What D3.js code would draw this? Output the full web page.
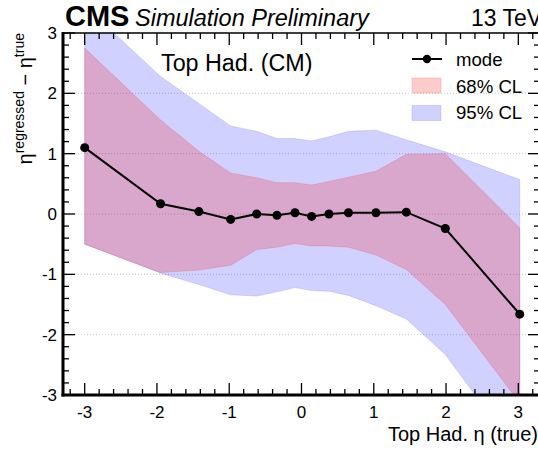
<!DOCTYPE html>
<html><head><meta charset="utf-8">
<script src="https://cdn.jsdelivr.net/npm/d3@7"></script>
<style>body{margin:0;background:#fff}svg{display:block}text{font-family:"Liberation Sans",Arial,sans-serif}</style>
</head><body><svg id="c" width="538" height="449"></svg>
<script>
const etaTrue = [-3.0, -1.95, -1.42, -0.98, -0.62, -0.34, -0.09, 0.14, 0.38, 0.65, 1.03, 1.45, 1.99, 3.02];
const modeVals = [1.10, 0.17, 0.04, -0.09, 0.0, -0.02, 0.02, -0.04, 0.0, 0.02, 0.02, 0.03, -0.24, -1.66];
const lo68 = [-0.50, -0.97, -0.93, -0.85, -0.59, -0.55, -0.49, -0.53, -0.53, -0.55, -0.68, -0.92, -1.50, -3.13];
const hi68 = [2.75, 1.56, 1.04, 0.68, 0.60, 0.52, 0.52, 0.48, 0.54, 0.61, 0.71, 0.99, 1.00, -0.23];
const lo95 = [-0.50, -0.98, -1.17, -1.34, -1.36, -1.29, -1.22, -1.27, -1.28, -1.35, -1.52, -1.74, -2.33, -4.0];
const hi95 = [3.45, 2.28, 1.83, 1.46, 1.37, 1.25, 1.25, 1.21, 1.28, 1.37, 1.39, 1.23, 1.03, 0.57];
const xTicks = [-3, -2, -1, 0, 1, 2, 3];
const yTicks = [-3, -2, -1, 0, 1, 2, 3];
const legendLabels = ["mode", "68% CL", "95% CL"];

const svg = d3.select("#c");
const L = 63, R = 540, T = 33, B = 395;
const x = d3.scaleLinear().domain([-3.3, 3.3]).range([L, R]);
const y = d3.scaleLinear().domain([-3, 3]).range([B, T]);
const blue = "rgba(0,0,255,0.18)", pink = "rgba(255,0,0,0.2)";

svg.append("clipPath").attr("id","clip").append("rect").attr("x",L).attr("y",T).attr("width",R-L).attr("height",B-T);

// grid
svg.append("g").selectAll("line").data([-2,-1,0,1,2]).join("line")
  .attr("x1",L).attr("x2",R).attr("y1",d=>y(d)).attr("y2",d=>y(d))
  .attr("stroke","#c8c8c8").attr("stroke-width",1).attr("stroke-dasharray","1,2");

const idx = d3.range(etaTrue.length);
const g = svg.append("g").attr("clip-path","url(#clip)");
const area = (lo,hi)=>d3.area().x(i=>x(etaTrue[i])).y0(i=>y(lo[i])).y1(i=>y(hi[i]))(idx);
g.append("path").attr("d",area(lo95,hi95)).attr("fill",blue).attr("stroke","rgba(0,0,255,0.12)");
g.append("path").attr("d",area(lo68,hi68)).attr("fill",pink).attr("stroke","rgba(255,0,0,0.15)");
g.append("path").attr("d",d3.line().x(i=>x(etaTrue[i])).y(i=>y(modeVals[i]))(idx))
  .attr("fill","none").attr("stroke","#000").attr("stroke-width",2);
g.selectAll("circle").data(idx).join("circle").attr("cx",i=>x(etaTrue[i])).attr("cy",i=>y(modeVals[i]))
  .attr("r",4.5).attr("fill","#000");

// axes ticks
const minorX = d3.range(-32,33,2).map(v=>v/10);
const minorY = d3.range(-30,31,2).map(v=>v/10);
const tk = svg.append("g").attr("stroke","#000").attr("stroke-width",1.3);
minorX.forEach(v=>{
  const major = Math.abs(v-Math.round(v))<1e-6;
  const len = major?12:6;
  tk.append("line").attr("x1",x(v)).attr("x2",x(v)).attr("y1",B).attr("y2",B-len);
  tk.append("line").attr("x1",x(v)).attr("x2",x(v)).attr("y1",T).attr("y2",T+len);
});
minorY.forEach(v=>{
  const major = Math.abs(v-Math.round(v))<1e-6;
  const len = major?12:6;
  tk.append("line").attr("y1",y(v)).attr("y2",y(v)).attr("x1",L).attr("x2",L+len);
  tk.append("line").attr("y1",y(v)).attr("y2",y(v)).attr("x1",R).attr("x2",R-len);
});
// frame
svg.append("rect").attr("x",L).attr("y",T).attr("width",R-L).attr("height",B-T).attr("fill","none").attr("stroke","#000").attr("stroke-width",1.5);
svg.append("line").attr("x1",L).attr("x2",L).attr("y1",T-1).attr("y2",B+1.5).attr("stroke","#000").attr("stroke-width",3);
svg.append("line").attr("x1",L-1.5).attr("x2",R).attr("y1",B).attr("y2",B).attr("stroke","#000").attr("stroke-width",3);

// tick labels
svg.append("g").selectAll("text").data(xTicks).join("text")
  .attr("x",d=>x(d)).attr("y",418).attr("text-anchor","middle").attr("font-size",17).text(d=>d);
svg.append("g").selectAll("text").data(yTicks).join("text")
  .attr("x",57).attr("y",d=>y(d)+6).attr("text-anchor","end").attr("font-size",17).text(d=>d);

// axis titles
svg.append("text").attr("x",538).attr("y",441).attr("text-anchor","end").attr("font-size",20).text("Top Had. η (true)");
const yt = svg.append("text").attr("transform","translate(32,33) rotate(-90)").attr("text-anchor","end").attr("font-size",20);
yt.append("tspan").text("η");
yt.append("tspan").attr("font-size",14).attr("dy",-8).text("regressed");
yt.append("tspan").attr("dy",8).text(" − η");
yt.append("tspan").attr("font-size",14).attr("dy",-8).text("true");

// header
svg.append("text").attr("x",65).attr("y",26).attr("font-size",29).attr("font-weight","bold").text("CMS");
svg.append("text").attr("x",135).attr("y",26).attr("font-size",23.5).attr("font-style","italic").text("Simulation Preliminary");
svg.append("text").attr("x",471).attr("y",26).attr("font-size",23).text("13 TeV");
svg.append("text").attr("x",161).attr("y",71).attr("font-size",23.3).text("Top Had. (CM)");

// legend
const lg = svg.append("g");
lg.append("line").attr("x1",412).attr("x2",442).attr("y1",59).attr("y2",59).attr("stroke","#000").attr("stroke-width",2);
lg.append("circle").attr("cx",427).attr("cy",59).attr("r",4.2).attr("fill","#000");
lg.append("rect").attr("x",412).attr("y",78).attr("width",29).attr("height",15).attr("fill",pink).attr("stroke","rgba(255,0,0,0.15)");
lg.append("rect").attr("x",412).attr("y",105.5).attr("width",29).attr("height",15).attr("fill",blue).attr("stroke","rgba(0,0,255,0.12)");
lg.selectAll("text").data(legendLabels).join("text").attr("x",456).attr("y",(d,i)=>66+i*26.7).attr("font-size",18.6).text(d=>d);
</script></body></html>
